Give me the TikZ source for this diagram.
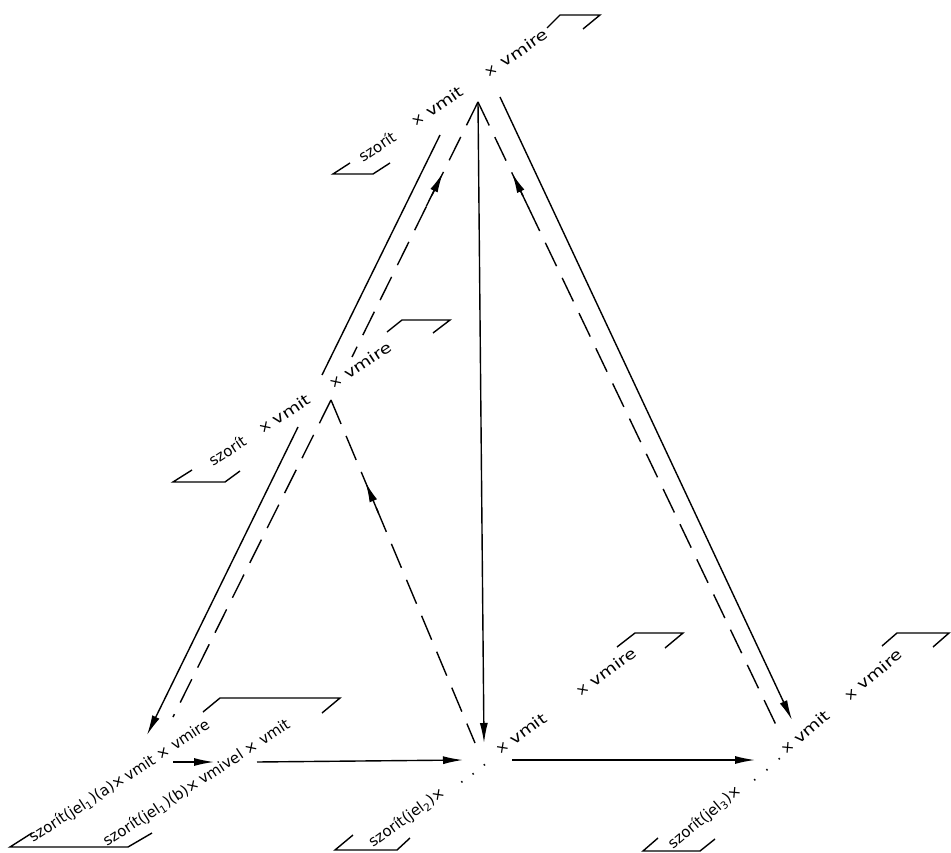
\documentclass[tikz,border=0pt]{standalone}
\usepackage{fontspec}
\setmainfont{DejaVu Sans}
\usetikzlibrary{arrows.meta,calc}
\newcommand{\wideword}[1]{{\addfontfeatures{FakeStretch=1.25}#1}}
\begin{document}
\begin{tikzpicture}[x=1pt,y=-1pt,
  lbl/.style={inner sep=0pt,anchor=base west,font=\fontsize{15}{18}\selectfont},
  ln/.style={line width=1.4pt},
  dsh/.style={line width=1.4pt,dash pattern=on 26pt off 13pt},
  tipped/.style={-{Latex[length=20pt,width=8pt]}},
  brk/.style={line width=1.4pt,line join=miter}]
\useasboundingbox[fill=white] (0,0) rectangle (951,853);

% ---------- top node
\coordinate (Ts) at (363,163);
\node[lbl,rotate=34] (T1) at (Ts) {szorít};
\node[lbl,rotate=34] (T2) at ($(Ts)+(-34:63)$) {×};
\node[lbl,rotate=34] (T3) at ($(Ts)+(-34:81)$) {\wideword{vmit}};
\node[lbl,rotate=34] (T4) at ($(Ts)+(-34:151)$) {×};
\node[lbl,rotate=34] (T5) at ($(Ts)+(-34:171)$) {\wideword{vmire}};
\draw[brk] (350,163) -- (333,174) -- (373,174) -- (390,163);
\draw[brk] (547,28) -- (560,15) -- (600,15) -- (583,29);

% ---------- middle node
\coordinate (Ms) at (213,467);
\node[lbl,rotate=33] (M1) at (Ms) {szorít};
\node[lbl,rotate=33] (M2) at ($(Ms)+(-33:59)$) {×};
\node[lbl,rotate=33] (M3) at ($(Ms)+(-33:76)$) {\wideword{vmit}};
\node[lbl,rotate=33] (M4) at ($(Ms)+(-33:143)$) {×};
\node[lbl,rotate=33] (M5) at ($(Ms)+(-33:161)$) {\wideword{vmire}};
\draw[brk] (192,470) -- (173,482) -- (225,482) -- (240,471);
\draw[brk] (387,332) -- (402,320) -- (450,320) -- (433,333);

% ---------- bottom-left node (two lines)
\node[lbl,rotate=33] (Ba) at (33,843) {szorít(jel\textsubscript{1})(a)×\,vmit × vmire};
\node[lbl,rotate=33] (Bb) at (107,847) {szorít(jel\textsubscript{1})(b)×\,vmivel × vmit};
\draw[brk] (32,833) -- (10,847) -- (128,847) -- (152,833);
\draw[brk] (203,712) -- (220,698) -- (340,698) -- (322,713);

% ---------- bottom-middle node
\coordinate (Cs) at (373,848);
\node[lbl,rotate=36] (C1) at (Cs) {szorít(jel\textsubscript{2})×};
\node[lbl,rotate=36] (C2) at ($(Cs)+(-36:108)$) {.};
\node[lbl,rotate=36] (C3) at ($(Cs)+(-36:122)$) {.};
\node[lbl,rotate=36] (C4) at ($(Cs)+(-36:136)$) {.};
\node[lbl,rotate=36] (C5) at ($(Cs)+(-36:157)$) {× \wideword{vmit}};
\node[lbl,rotate=36] (C6) at ($(Cs)+(-36:256)$) {× \wideword{vmire}};
\draw[brk] (353,835) -- (335,850) -- (397,850) -- (410,838);
\draw[brk] (617,647) -- (635,633) -- (683,633) -- (665,648);

% ---------- bottom-right node
\coordinate (Ds) at (673,850);
\node[lbl,rotate=40] (D1) at (Ds) {szorít(jel\textsubscript{3})×};
\node[lbl,rotate=40] (D2) at ($(Ds)+(-40:105)$) {.};
\node[lbl,rotate=40] (D3) at ($(Ds)+(-40:121)$) {.};
\node[lbl,rotate=40] (D4) at ($(Ds)+(-40:137)$) {.};
\node[lbl,rotate=40] (D5) at ($(Ds)+(-40:147)$) {× \wideword{vmit}};
\node[lbl,rotate=40] (D6) at ($(Ds)+(-40:230)$) {× \wideword{vmire}};
\draw[brk] (658,838) -- (643,851) -- (700,851) -- (715,839);
\draw[brk] (882,646) -- (897,633) -- (949,633) -- (933,647);

% ---------- connector end points
\coordinate (Tapex) at (478,102);
\coordinate (TsL) at (440,135);
\coordinate (TsR) at (500,97);
\coordinate (Mapex) at (331,400);
\coordinate (MgA) at (322,375);
\coordinate (MgB) at (298,427);
\coordinate (MdUp) at (352,357);
\coordinate (B1tip) at (147,735);
\coordinate (B1d) at (173,717);
\coordinate (B1ha) at (173,762);
\coordinate (B1hb) at (214,762);
\coordinate (B1l) at (257,762);
\coordinate (B2in) at (463,760);
\coordinate (B2v) at (484,743);
\coordinate (B2d) at (475,743);
\coordinate (B2out) at (512,760);
\coordinate (B3in) at (755,760);
\coordinate (B3s) at (792,720);
\coordinate (B3d) at (777,727);

% ---------- connectors
\draw[ln] (TsL) -- (MgA);
\draw[ln,tipped] (MgB) -- (B1tip);
\draw[dsh] (Mapex) -- (B1d);
\draw[dsh] (Tapex) -- (MdUp);
\draw[ln,tipped] ($(Tapex)!0.17!(B1d)$) -- ($(Tapex)!0.115!(B1d)$);

\draw[ln,tipped] (Tapex) -- (B2v);

\draw[ln,tipped] (TsR) -- (B3s);
\draw[dsh] (Tapex) -- (B3d);
\draw[ln,tipped] ($(Tapex)!0.17!(B3d)$) -- ($(Tapex)!0.114!(B3d)$);

\draw[dsh] (Mapex) -- (B2d);
\draw[ln,tipped] ($(Mapex)!0.33!(B2d)$) -- ($(Mapex)!0.24!(B2d)$);

\draw[ln,tipped] (B1ha) -- (B1hb);
\draw[ln,tipped] (B1l) -- (B2in);
\draw[ln,tipped] (B2out) -- (B3in);
\end{tikzpicture}
\end{document}
